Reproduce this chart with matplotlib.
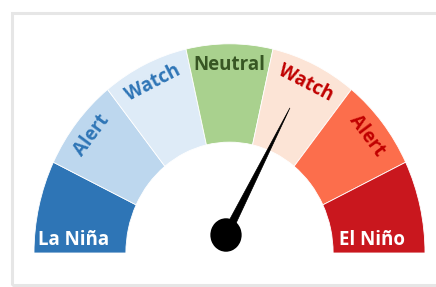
import numpy as np
import matplotlib.pyplot as plt
from matplotlib.patches import Wedge, Polygon, Rectangle

# gauge bands, left (La Niña) to right (El Niño)
labels = ['La Niña', 'Alert', 'Watch', 'Neutral', 'Watch', 'Alert', 'El Niño']
colors = ['#2E75B6', '#BDD7EE', '#DEEBF7', '#A9D18E', '#FCE4D6', '#FC6E4C', '#C9171E']
text_colors = ['white', '#2E75B6', '#2E75B6', '#375623', '#C00000', '#C00000', 'white']
needle_value = 4.6   # on a 0..7 scale

n = len(labels)
seg = 180.0 / n
stretch = 1.07   # the gauge is a little taller than wide

fig = plt.figure(figsize=(4.36, 2.87), dpi=100)
ax = fig.add_axes([0, 0, 1, 1])
ax.set_xlim(-229.5 / 195.5, (436 - 229.5) / 195.5)
unit_y = 195.5 * stretch
ax.set_ylim(-34 / unit_y, 253 / unit_y)
ax.set_aspect('auto')
ax.axis('off')

# light grey frame (clipped on the right like the screenshot)
ax.add_patch(Rectangle((-217.5 / 195.5, -32 / unit_y), 2.5, 272 / unit_y,
                       fill=False, ec='#E6E6E6', lw=2.2))

for i, (lab, c, tc) in enumerate(zip(labels, colors, text_colors)):
    t1 = 180 - (i + 1) * seg
    t2 = 180 - i * seg
    ax.add_patch(Wedge((0, 0), 1.0, t1, t2, width=0.47, fc=c, ec='white', lw=0.6))
    if i == 0 or i == n - 1:
        x = -0.80 if i == 0 else 0.73
        ax.text(x, 0.06, lab, color=tc, fontsize=13.5, fontweight='bold',
                family='Open Sans', ha='center', va='center')
    else:
        th = np.radians(180 - (i + 0.5) * seg)
        r = 0.9
        rot = np.degrees(np.arctan2(-stretch * np.cos(th), np.sin(th)))
        ax.text(r * np.cos(th), r * np.sin(th), lab, color=tc, fontsize=13.5,
                fontweight='bold', family='Open Sans', ha='center', va='center',
                rotation=rot, rotation_mode='anchor')

# needle
px, py = -3.5 / 195.5, 18 / unit_y
ang = np.radians(180 - needle_value * seg)
L = 0.69
tip = (px + L * np.cos(ang), py + L * np.sin(ang))
perp = np.array([-np.sin(ang), np.cos(ang)])
hw = 0.021
base1 = (px + hw * perp[0], py + hw * perp[1] / stretch)
base2 = (px - hw * perp[0], py - hw * perp[1] / stretch)
ax.add_patch(Polygon([base1, tip, base2], closed=True, fc='black', ec='black', lw=0.5))
ax.add_patch(Wedge((px, py), 0.08, 0, 360, fc='black', ec='none'))

fig.savefig('out.png', dpi=100)
